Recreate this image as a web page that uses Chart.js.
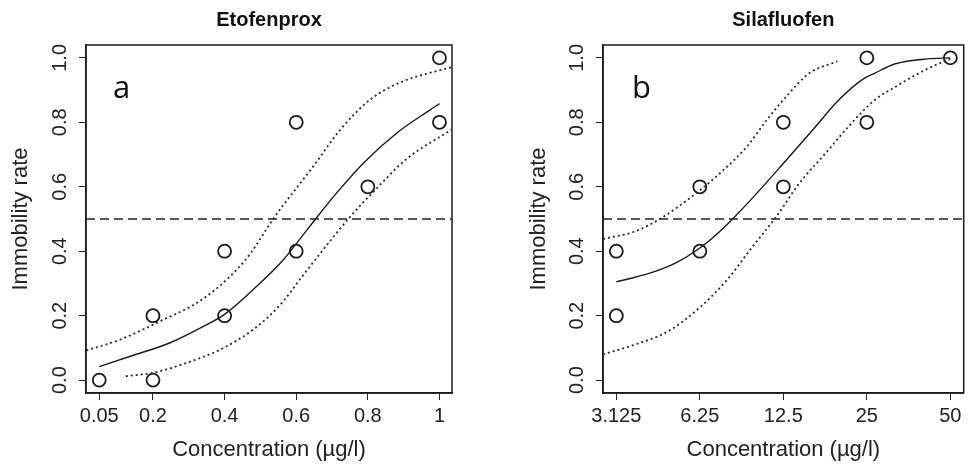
<!DOCTYPE html>
<html>
<head>
<meta charset="utf-8">
<script src="https://cdn.jsdelivr.net/npm/chart.js@4.4.1/dist/chart.umd.min.js"></script>
<style>
  html, body { margin: 0; padding: 0; background: #fff; }
  #wrap { position: relative; width: 972px; height: 466px; }
  .panel { position: absolute; top: 0; width: 486px; height: 466px; }
</style>
</head>
<body>
<div id="wrap">
  <div class="panel" style="left:0"><canvas id="chartA" width="486" height="466"></canvas></div>
  <div class="panel" style="left:486px"><canvas id="chartB" width="486" height="466"></canvas></div>
</div>
<script>
// shared y axis
const yTicks = [0, 0.2, 0.4, 0.6, 0.8, 1.0];
const yTickLabels = ['0.0', '0.2', '0.4', '0.6', '0.8', '1.0'];
const refLevel = 0.5;

// Etofenprox (panel a)
const etoTicks = [0.05, 0.2, 0.4, 0.6, 0.8, 1];
const etoTickLabels = ['0.05', '0.2', '0.4', '0.6', '0.8', '1'];
const etoObsX = [0.05, 0.2, 0.2, 0.4, 0.4, 0.6, 0.6, 0.8, 1, 1];
const etoObsY = [0, 0, 0.2, 0.2, 0.4, 0.4, 0.8, 0.6, 0.8, 1];
const etoFitX = [0.05, 0.137, 0.248, 0.341, 0.4, 0.48, 0.563, 0.602, 0.654, 0.713, 0.788, 0.881, 0.973, 1.0];
const etoFitY = [0.042, 0.074, 0.116, 0.167, 0.204, 0.281, 0.372, 0.426, 0.5, 0.581, 0.674, 0.767, 0.838, 0.858];
const etoUpX = [0.014, 0.109, 0.23, 0.323, 0.406, 0.47, 0.538, 0.648, 0.723, 0.806, 0.891, 1.033];
const etoUpY = [0.092, 0.126, 0.188, 0.24, 0.312, 0.39, 0.504, 0.664, 0.777, 0.87, 0.924, 0.971];
const etoLoX = [0.124, 0.202, 0.295, 0.388, 0.48, 0.554, 0.619, 0.697, 0.753, 0.816, 0.908, 1.033];
const etoLoY = [0.012, 0.023, 0.054, 0.095, 0.157, 0.232, 0.325, 0.435, 0.51, 0.585, 0.686, 0.777];

// Silafluofen (panel b)
const silTicks = [3.125, 6.25, 12.5, 25, 50];
const silTickLabels = ['3.125', '6.25', '12.5', '25', '50'];
const silObsX = [3.125, 3.125, 6.25, 6.25, 12.5, 12.5, 25, 25, 50];
const silObsY = [0.2, 0.4, 0.4, 0.6, 0.6, 0.8, 0.8, 1, 1];
const silFitX = [3.125, 4.1, 5.1, 6.25, 7.26, 8.287, 10.06, 12.84, 15.97, 19.83, 24.0, 26.76, 31.5, 41.3, 50];
const silFitY = [0.305, 0.331, 0.363, 0.41, 0.456, 0.504, 0.581, 0.684, 0.777, 0.87, 0.932, 0.953, 0.981, 0.997, 1.0];
const silUpX = [2.8, 3.667, 4.56, 6.164, 7.453, 9.265, 10.91, 12.84, 15.53, 19.57];
const silUpY = [0.438, 0.462, 0.504, 0.585, 0.645, 0.726, 0.808, 0.881, 0.953, 0.989];
const silLoX = [2.8, 3.667, 4.816, 6.315, 7.851, 9.5, 11.83, 14.31, 17.79, 21.52, 26.76, 31.5, 41.3, 50];
const silLoY = [0.08, 0.111, 0.152, 0.229, 0.312, 0.405, 0.509, 0.612, 0.705, 0.788, 0.87, 0.909, 0.966, 0.997];

const FONT = '"Liberation Sans", Arial, sans-serif';
const INK = '#1a1a1a';

function pts(xs, ys) {
  return xs.map((x, i) => ({ x: x, y: ys[i] }));
}

// box, rotated y tick labels, panel letter
const framePlugin = {
  id: 'frame',
  afterDraw(chart, args, opts) {
    const ctx = chart.ctx;
    const a = chart.chartArea;
    const ys = chart.scales.y;
    ctx.save();
    ctx.strokeStyle = INK;
    ctx.lineWidth = 1.5;
    ctx.strokeRect(a.left, a.top, a.right - a.left, a.bottom - a.top);

    ctx.font = '20px ' + FONT;
    ctx.fillStyle = '#222';
    ctx.textAlign = 'center';
    ctx.textBaseline = 'middle';
    yTicks.forEach((v, i) => {
      ctx.save();
      ctx.translate(a.left - 26, ys.getPixelForValue(v));
      ctx.rotate(-Math.PI / 2);
      ctx.fillText(yTickLabels[i], 0, 0);
      ctx.restore();
    });

    ctx.font = '31px "Open Sans", sans-serif';
    ctx.fillStyle = '#111';
    ctx.textAlign = 'left';
    ctx.textBaseline = 'alphabetic';
    ctx.fillText(opts.letter, a.left + opts.letterDx, a.top + 53);
    ctx.restore();
  }
};

function makePanel(id, p) {
  const lineStyle = { showLine: true, pointRadius: 0, fill: false, cubicInterpolationMode: 'monotone' };
  const dotted = Object.assign({}, lineStyle, { borderColor: '#2a2a2a', borderWidth: 1.8, borderDash: [2, 3] });
  new Chart(document.getElementById(id), {
    type: 'scatter',
    data: {
      datasets: [
        Object.assign({}, lineStyle, {
          data: [{ x: p.xMin, y: refLevel }, { x: p.xMax, y: refLevel }],
          borderColor: '#222', borderWidth: 1.4, borderDash: [9, 5], cubicInterpolationMode: 'default'
        }),
        Object.assign({}, dotted, { data: pts(p.upX, p.upY) }),
        Object.assign({}, dotted, { data: pts(p.loX, p.loY) }),
        Object.assign({}, lineStyle, { data: pts(p.fitX, p.fitY), borderColor: INK, borderWidth: 1.4 }),
        {
          data: pts(p.obsX, p.obsY),
          pointRadius: 6.5,
          pointBorderWidth: 1.8,
          pointBorderColor: INK,
          pointBackgroundColor: 'rgba(0,0,0,0)',
          showLine: false
        }
      ]
    },
    options: {
      responsive: false,
      animation: false,
      layout: { padding: { left: 0, right: p.padRight, top: 0, bottom: 0 } },
      plugins: {
        legend: { display: false },
        tooltip: { enabled: false },
        title: {
          display: true,
          text: p.title,
          fullSize: false,
          color: '#111',
          font: { family: FONT, size: 20, weight: 'bold' },
          padding: { top: 8, bottom: 13 }
        },
        frame: { letter: p.letter, letterDx: p.letterDx }
      },
      scales: {
        x: {
          type: p.xType,
          min: p.xMin,
          max: p.xMax,
          afterBuildTicks: s => { s.ticks = p.ticks.map(v => ({ value: v })); },
          afterFit: s => { s.height = 73; },
          grid: { drawOnChartArea: false, drawTicks: true, tickLength: 7, color: '#222', lineWidth: 1 },
          border: { display: true, color: INK, width: 1.5 },
          ticks: {
            autoSkip: false, maxRotation: 0, minRotation: 0, padding: 4,
            color: '#222', font: { family: FONT, size: 20 },
            callback: (v, i) => p.tickLabels[i]
          },
          title: {
            display: true, text: 'Concentration (µg/l)', color: '#222',
            font: { family: FONT, size: 22 }, padding: { top: 0, bottom: 3 }
          }
        },
        y: {
          min: -0.04,
          max: 1.04,
          afterBuildTicks: s => { s.ticks = yTicks.map(v => ({ value: v })); },
          afterFit: s => { s.width = p.yWidth; },
          grid: { drawOnChartArea: false, drawTicks: true, tickLength: 7, color: '#222', lineWidth: 1 },
          border: { display: true, color: INK, width: 1.5 },
          ticks: { display: false },
          title: {
            display: true, text: 'Immobility rate', color: '#222',
            font: { family: FONT, size: 22 }, padding: { top: p.yTitlePad, bottom: 0 }
          }
        }
      }
    },
    plugins: [framePlugin]
  });
}

makePanel('chartA', {
  title: 'Etofenprox', letter: 'a', letterDx: 27,
  xType: 'linear', xMin: 0.013, xMax: 1.035,
  ticks: etoTicks, tickLabels: etoTickLabels,
  obsX: etoObsX, obsY: etoObsY, fitX: etoFitX, fitY: etoFitY,
  upX: etoUpX, upY: etoUpY, loX: etoLoX, loY: etoLoY,
  yWidth: 86, yTitlePad: 8, padRight: 34
});

makePanel('chartB', {
  title: 'Silafluofen', letter: 'b', letterDx: 29,
  xType: 'logarithmic', xMin: 2.798, xMax: 55.86,
  ticks: silTicks, tickLabels: silTickLabels,
  obsX: silObsX, obsY: silObsY, fitX: silFitX, fitY: silFitY,
  upX: silUpX, upY: silUpY, loX: silLoX, loY: silLoY,
  yWidth: 117, yTitlePad: 40, padRight: 1
});
</script>
</body>
</html>
